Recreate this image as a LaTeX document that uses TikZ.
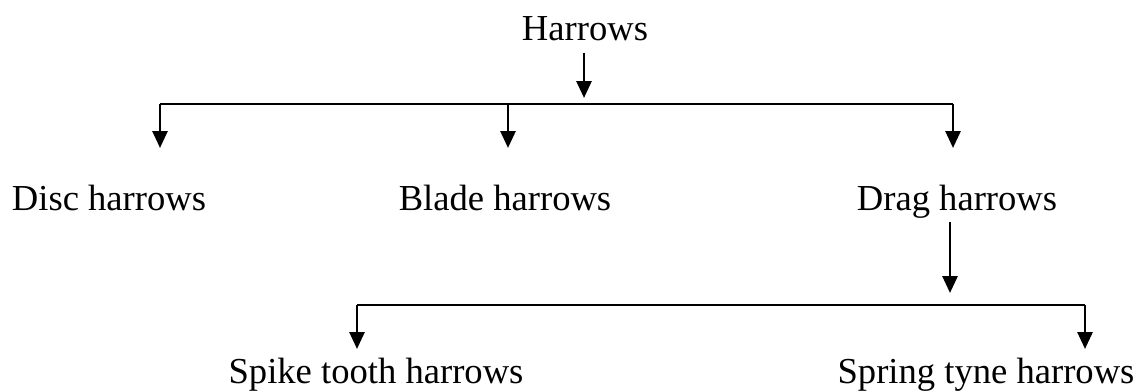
\documentclass[tikz,border=0pt]{standalone}
\usepackage{fontspec}
\setmainfont{Liberation Serif}
\usetikzlibrary{arrows.meta}

\begin{document}
\begin{tikzpicture}[x=0.5pt,y=-0.5pt,
  lbl/.style={anchor=base, inner sep=0pt, font=\fontsize{18.3}{22}\selectfont},
  bar/.style={black, line width=1.4pt},
  arr/.style={black, line width=1.4pt, -{Triangle[length=8.5pt,width=7.5pt]}}]
\useasboundingbox (0,0) rectangle (1144,391);
% labels
\node[lbl] (root)   at (585,40)  {Harrows};
\node[lbl] (disc)   at (109,210) {Disc harrows};
\node[lbl] (blade)  at (505,210) {Blade harrows};
\node[lbl] (drag)   at (957,210) {Drag harrows};
\node[lbl] (spike)  at (376,383) {Spike tooth harrows};
\node[lbl] (spring) at (986,383) {Spring tyne harrows};
% first level
\coordinate (roottip) at (584,98);
\draw[arr, shorten <=6pt] (root.south -| roottip) -- (roottip);
\draw[bar] (160,104) coordinate (barL) -- (953,104) coordinate (barR);
\foreach \n/\x in {disc/160, blade/508, drag/953} {
 \coordinate (\n top) at (\x,104);
 \coordinate (\n tip) at (\x,148);
 \draw[arr] (\n top) -- (\n tip);
}
% second level
\coordinate (dragtip) at (950,293);
\draw[arr, shorten <=2pt] (drag.south -| dragtip) -- (dragtip);
\draw[bar] (357,305) coordinate (subL) -- (1085,305) coordinate (subR);
\foreach \n/\x in {spike/357, spring/1085} {
 \coordinate (\n top) at (\x,305);
 \coordinate (\n tip) at (\x,349);
 \draw[arr] (\n top) -- (\n tip);
}
\end{tikzpicture}
\end{document}
